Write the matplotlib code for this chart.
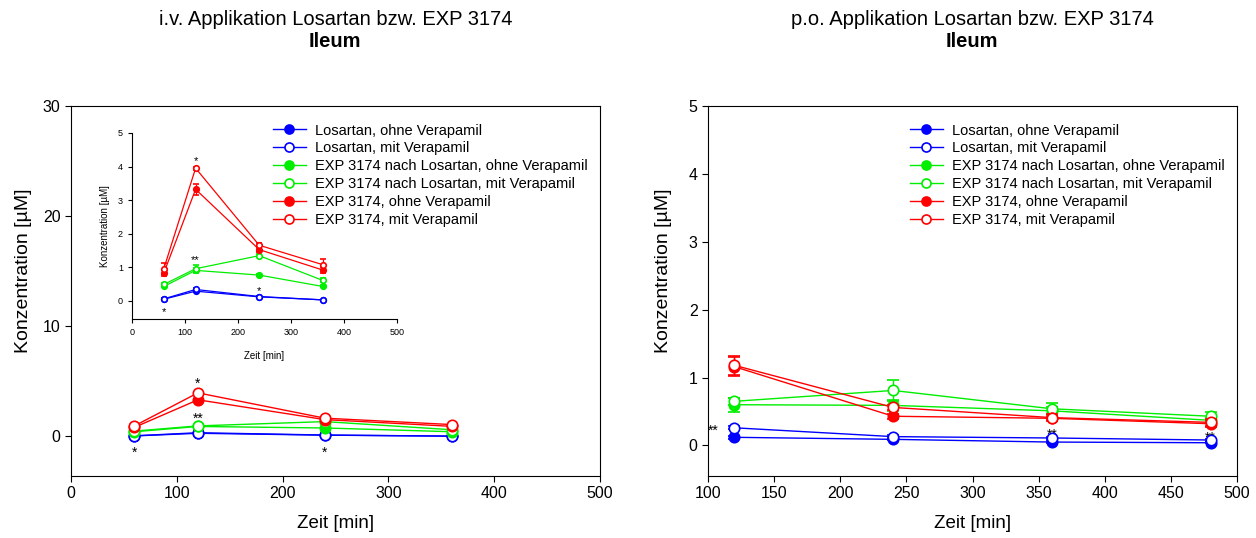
import matplotlib
matplotlib.use("Agg")
import matplotlib.pyplot as plt
from matplotlib.lines import Line2D
import numpy as np

plt.rcParams['font.family'] = ['Liberation Sans', 'DejaVu Sans']

labels = ["Losartan, ohne Verapamil", "Losartan, mit Verapamil",
          "EXP 3174 nach Losartan, ohne Verapamil", "EXP 3174 nach Losartan, mit Verapamil",
          "EXP 3174, ohne Verapamil", "EXP 3174, mit Verapamil"]
colors = ["#0000ff", "#0000ff", "#00ee00", "#00ee00", "#ff0000", "#ff0000"]
filled = [True, False, True, False, True, False]

# i.v. application
t_iv = [60, 120, 240, 360]
iv_los_ohne = [0.04, 0.28, 0.11, 0.02]
iv_los_mit = [0.05, 0.33, 0.12, 0.02]
iv_exp_nach_ohne = [0.42, 0.90, 0.76, 0.42]
iv_exp_nach_mit = [0.48, 0.95, 1.34, 0.60]
iv_exp_ohne = [0.82, 3.32, 1.52, 0.91]
iv_exp_mit = [0.95, 3.95, 1.65, 1.07]
iv_err = [[0.02, 0.03, 0.02, 0.01], [0.02, 0.04, 0.02, 0.01],
          [0.03, 0.08, 0.04, 0.03], [0.03, 0.10, 0.04, 0.06],
          [0.10, 0.17, 0.06, 0.08], [0.17, 0.05, 0.06, 0.17]]
iv_stars = [(120, 4.8, "*"), (120, 1.6, "**"), (60, -1.5, "*"), (240, -1.5, "*")]
iv_inset_stars = [(120, 4.15, "*"), (120, 1.2, "**"), (60, -0.35, "*"), (240, 0.28, "*")]

# p.o. application
t_po = [120, 240, 360, 480]
po_los_ohne = [0.12, 0.09, 0.05, 0.04]
po_los_mit = [0.26, 0.13, 0.11, 0.08]
po_exp_nach_ohne = [0.60, 0.59, 0.51, 0.37]
po_exp_nach_mit = [0.65, 0.81, 0.54, 0.43]
po_exp_ohne = [1.16, 0.43, 0.40, 0.32]
po_exp_mit = [1.18, 0.56, 0.41, 0.34]
po_err = [[0.02, 0.01, 0.01, 0.01], [0.02, 0.02, 0.02, 0.01],
          [0.10, 0.08, 0.05, 0.03], [0.05, 0.16, 0.08, 0.07],
          [0.14, 0.04, 0.03, 0.05], [0.14, 0.04, 0.05, 0.05]]
po_stars = [(104, 0.22, "**"), (360, 0.16, "**"), (480, 0.11, "**")]

iv_series = [iv_los_ohne, iv_los_mit, iv_exp_nach_ohne, iv_exp_nach_mit, iv_exp_ohne, iv_exp_mit]
po_series = [po_los_ohne, po_los_mit, po_exp_nach_ohne, po_exp_nach_mit, po_exp_ohne, po_exp_mit]

fig = plt.figure(figsize=(12.56, 5.38), dpi=100)
ax1 = fig.add_axes([0.0565, 0.1152, 0.4212, 0.688])
ax2 = fig.add_axes([0.5637, 0.1152, 0.4212, 0.688])
axi = fig.add_axes([0.1051, 0.4071, 0.211, 0.3457])
axi.patch.set_visible(False)


def draw(ax, t, series, errs, ms, lw, cs):
    for i, (y, e) in enumerate(zip(series, errs)):
        ax.errorbar(t, y, yerr=e, color=colors[i], lw=lw, marker='o', ms=ms,
                    mfc=colors[i] if filled[i] else 'white', mec=colors[i], mew=1.2,
                    capsize=cs, elinewidth=lw, capthick=lw, zorder=3 + i)


draw(ax1, t_iv, iv_series, iv_err, 7.5, 1.0, 3)
draw(ax2, t_po, po_series, po_err, 7.5, 1.0, 4)
draw(axi, t_iv, iv_series, iv_err, 4, 0.9, 2)

handles = [Line2D([], [], color=colors[i], lw=1.0, marker='o', ms=6.5,
                  mfc=colors[i] if filled[i] else 'white', mec=colors[i], mew=1.2)
           for i in range(6)]

for ax in (ax1, ax2):
    ax.tick_params(direction='out', labelsize=11.5, length=4)
    ax.set_xlabel("Zeit [min]", fontsize=13.5, labelpad=10)
    ax.set_ylabel("Konzentration [µM]", fontsize=14)
    ax.legend(handles, labels, loc='upper left', bbox_to_anchor=(0.37, 0.968), frameon=False,
              fontsize=10.5, handlelength=2.3, labelspacing=0.27, borderaxespad=0,
              handletextpad=0.6)

ax1.yaxis.set_label_coords(-0.073, 0.554)
ax2.yaxis.set_label_coords(-0.068, 0.554)

ax1.set_xlim(0, 500)
ax1.set_ylim(-3.6, 30)
ax1.set_xticks([0, 100, 200, 300, 400, 500])
ax1.set_yticks([0, 10, 20, 30])
for x, y, s in iv_stars:
    ax1.text(x, y, s, ha='center', va='center', fontsize=10)

ax2.set_xlim(100, 500)
ax2.set_ylim(-0.45, 5)
ax2.set_xticks(np.arange(100, 501, 50))
ax2.set_yticks([0, 1, 2, 3, 4, 5])
for x, y, s in po_stars:
    ax2.text(x, y, s, ha='center', va='center', fontsize=10)

axi.set_xlim(0, 500)
axi.set_ylim(-0.55, 5)
axi.set_xticks([0, 100, 200, 300, 400, 500])
axi.set_yticks([0, 1, 2, 3, 4, 5])
axi.spines['top'].set_visible(False)
axi.spines['right'].set_visible(False)
axi.tick_params(direction='out', labelsize=6.5, length=3)
axi.set_xlabel("Zeit [min]", fontsize=7, labelpad=10)
axi.set_ylabel("Konzentration [µM]", fontsize=7, labelpad=6)
for x, y, s in iv_inset_stars:
    axi.text(x, y, s, ha='center', va='center', fontsize=8)

fig.text(0.267, 0.963, "i.v. Applikation Losartan bzw. EXP 3174", ha='center', va='center', fontsize=14.5)
fig.text(0.267, 0.923, "Ileum", ha='center', va='center', fontsize=14.5, fontweight='bold')
fig.text(0.774, 0.963, "p.o. Applikation Losartan bzw. EXP 3174", ha='center', va='center', fontsize=14.5)
fig.text(0.774, 0.923, "Ileum", ha='center', va='center', fontsize=14.5, fontweight='bold')

fig.savefig("out.png", dpi=100)
